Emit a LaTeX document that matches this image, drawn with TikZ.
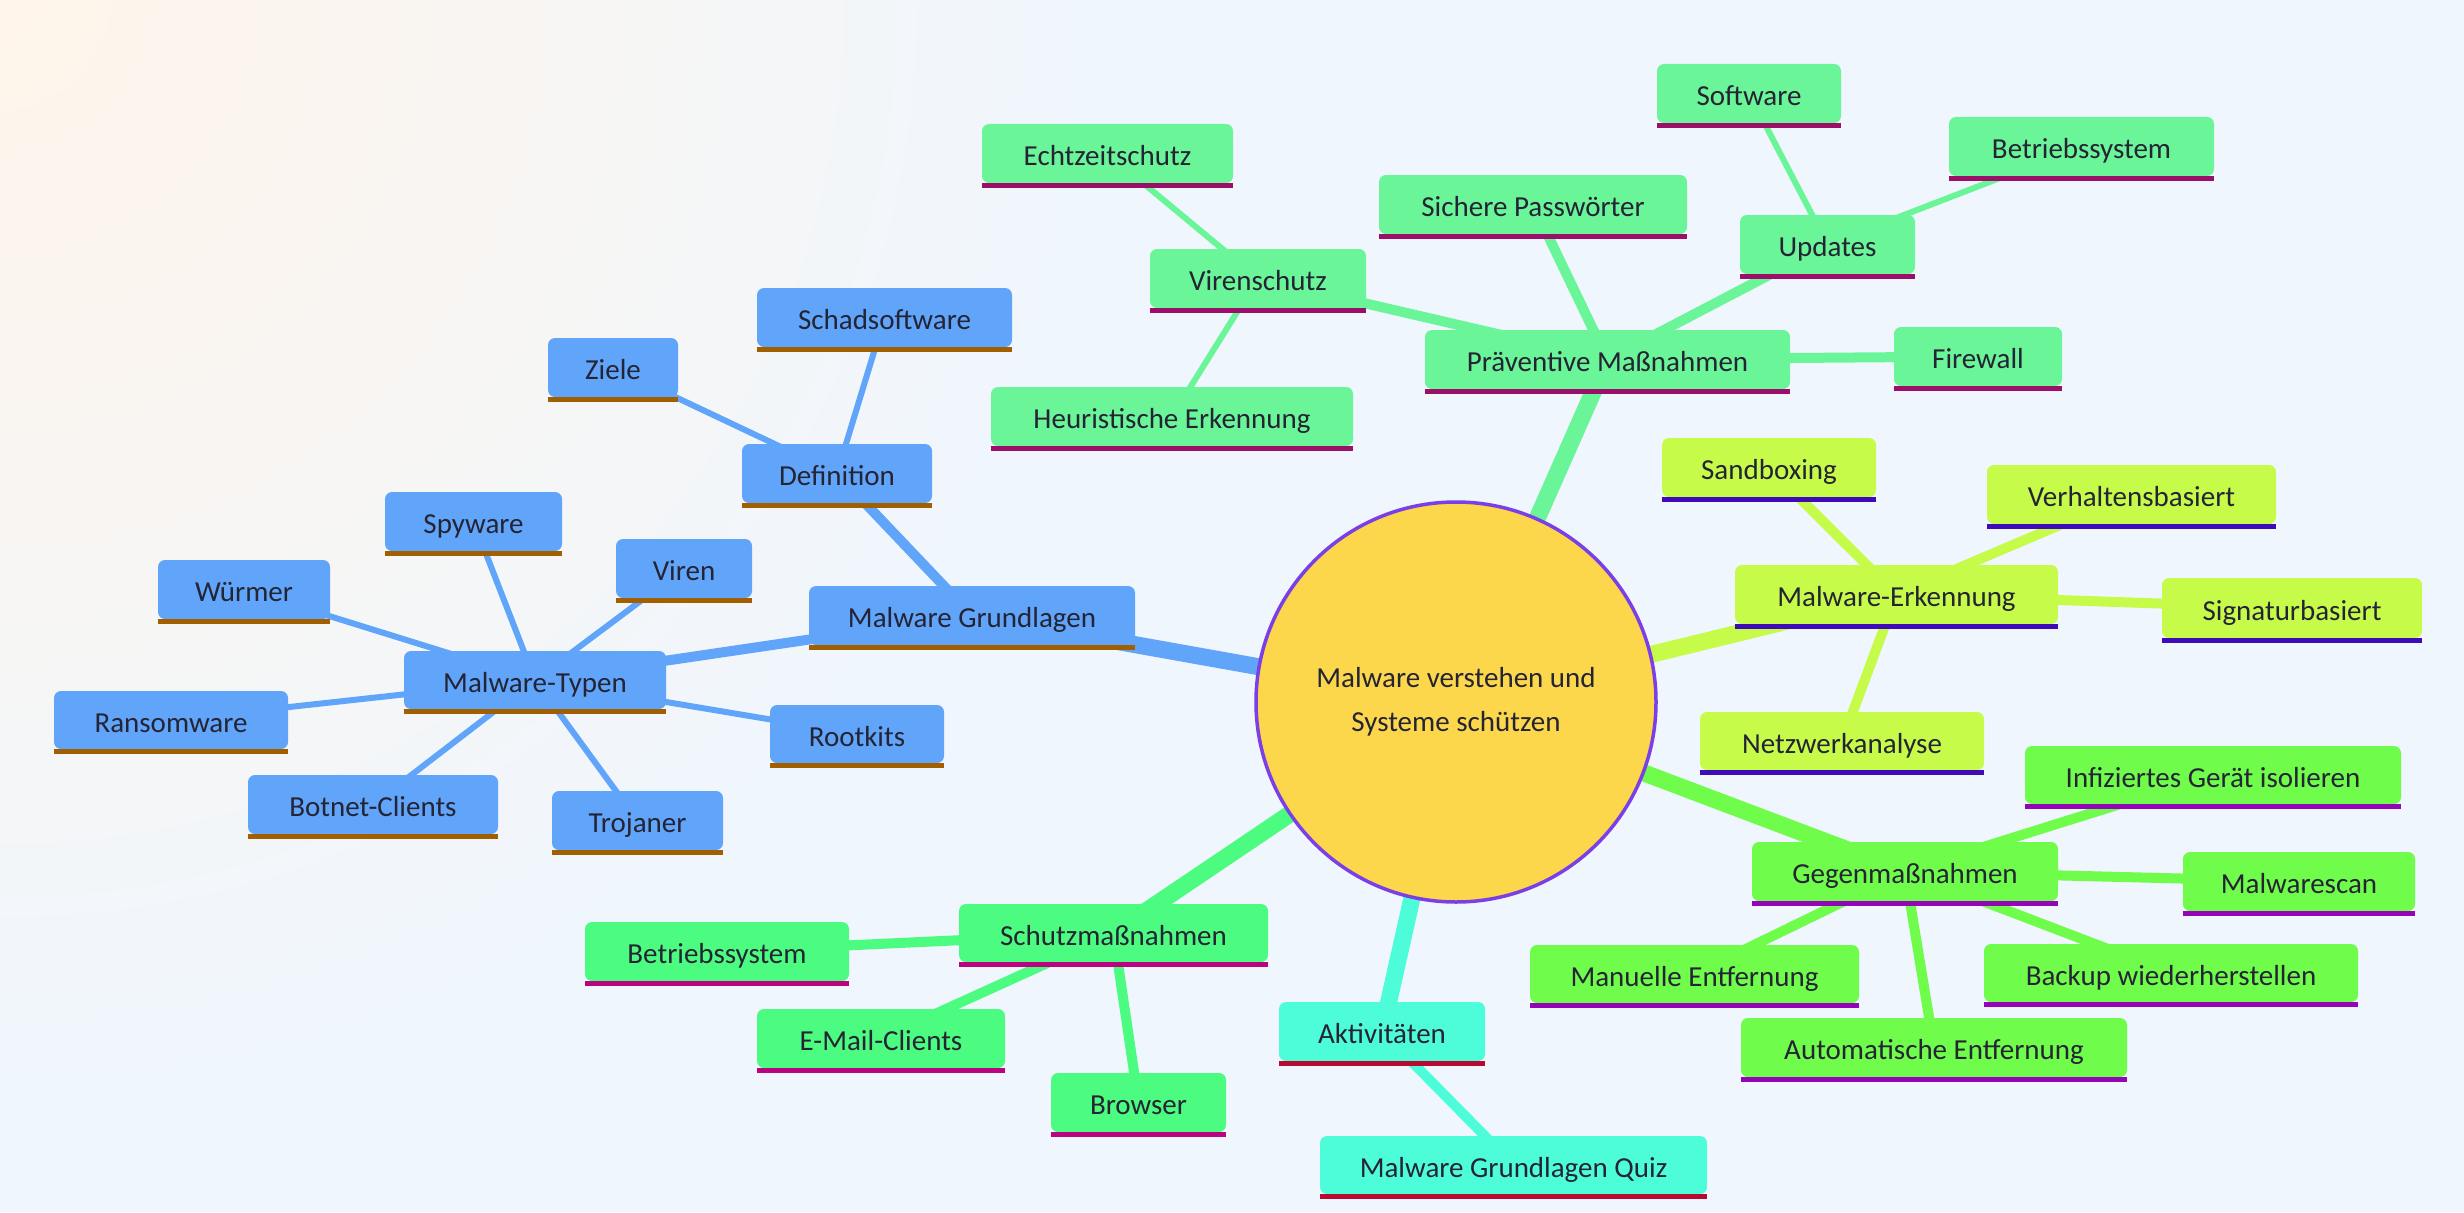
\documentclass[tikz,border=0pt]{standalone}
\usepackage{fontspec}
\setmainfont{Carlito}
\pgfdeclarelayer{bg}
\pgfdeclarelayer{edges}
\pgfsetlayers{bg,edges,main}
\definecolor{bgc}{HTML}{F0F6FD}
\definecolor{peach}{HTML}{FFF5EA}
\definecolor{txtc}{HTML}{242434}
\definecolor{cblue}{HTML}{60A5FA}\definecolor{bblue}{HTML}{A15F00}
\definecolor{cmint}{HTML}{6AF598}\definecolor{bmint}{HTML}{9B0F68}
\definecolor{clime}{HTML}{C7FB4A}\definecolor{blime}{HTML}{3F0BB8}
\definecolor{cgrn}{HTML}{6FFC4A}\definecolor{bgrn}{HTML}{9305B7}
\definecolor{cgrnb}{HTML}{4CFC80}\definecolor{bgrnb}{HTML}{B8057F}
\definecolor{caqua}{HTML}{4DFDD9}\definecolor{baqua}{HTML}{B80A31}
\definecolor{rootfill}{HTML}{FDD74B}\definecolor{rootline}{HTML}{7B3FE6}
\newcommand\mmf{\fontsize{29}{44}\selectfont}
\newcommand\mmbox[7]{\node[#2, minimum width={#5-#3}, minimum height={#6-#4-5}] (#1) at ({(#3+#5)/2},{(#4+#6-5)/2}) {#7};}
\begin{document}
\begin{tikzpicture}[x=1pt,y=-1pt,
  box/.style={rectangle, rounded corners=7pt, inner sep=0pt, text=txtc, font=\mmf, text height=27pt, text depth=3pt},
  bluebox/.style={box, fill=cblue},
  mintbox/.style={box, fill=cmint},
  limebox/.style={box, fill=clime},
  grnbox/.style={box, fill=cgrn},
  grnbbox/.style={box, fill=cgrnb},
  aquabox/.style={box, fill=caqua},
  rootedge/.style={line width=17pt},
  midedge/.style={line width=10pt},
  leafedge/.style={line width=6pt}]
\useasboundingbox (0,0) rectangle (2464,1212);
\begin{pgfonlayer}{bg}
\begin{scope}
\clip (0,0) rectangle (2464,1212);
\fill[bgc] (0,0) rectangle (2464,1212);
\shade[inner color=peach, outer color=bgc] (0,0) circle (1100pt);
\end{scope}
\end{pgfonlayer}

% root
\node[circle, minimum size=400pt, inner sep=0pt, fill=rootfill, draw=rootline, line width=3.5pt,
  align=center, text=txtc, font=\mmf] (rootn) at (1456,702) {Malware verstehen und\\Systeme schützen};

% blue branch
\mmbox{mg}{bluebox}{809}{586}{1135}{650}{Malware Grundlagen}
\mmbox{def}{bluebox}{742}{444}{932}{508}{Definition}
\mmbox{schad}{bluebox}{757}{288}{1012}{352}{Schadsoftware}
\mmbox{ziele}{bluebox}{548}{338}{678}{402}{Ziele}
\mmbox{typ}{bluebox}{404}{651}{666}{714}{Malware-Typen}
\mmbox{spy}{bluebox}{385}{492}{562}{556}{Spyware}
\mmbox{wurm}{bluebox}{158}{560}{330}{624}{Würmer}
\mmbox{viren}{bluebox}{616}{539}{752}{603}{Viren}
\mmbox{ransom}{bluebox}{54}{691}{288}{754}{Ransomware}
\mmbox{botnet}{bluebox}{248}{775}{498}{839}{Botnet-Clients}
\mmbox{troj}{bluebox}{552}{791}{723}{855}{Trojaner}
\mmbox{rootk}{bluebox}{770}{705}{944}{768}{Rootkits}

% praeventive branch
\mmbox{prae}{mintbox}{1425}{330}{1790}{394}{Präventive Maßnahmen}
\mmbox{viru}{mintbox}{1150}{249}{1366}{313}{Virenschutz}
\mmbox{echt}{mintbox}{982}{124}{1233}{188}{Echtzeitschutz}
\mmbox{heur}{mintbox}{991}{387}{1353}{451}{Heuristische Erkennung}
\mmbox{pass}{mintbox}{1379}{175}{1687}{239}{Sichere Passwörter}
\mmbox{upd}{mintbox}{1740}{215}{1915}{279}{Updates}
\mmbox{soft}{mintbox}{1657}{64}{1841}{128}{Software}
\mmbox{bsa}{mintbox}{1949}{117}{2214}{181}{Betriebssystem}
\mmbox{fire}{mintbox}{1894}{327}{2062}{391}{Firewall}

% erkennung branch
\mmbox{erk}{limebox}{1735}{565}{2058}{629}{Malware-Erkennung}
\mmbox{sand}{limebox}{1662}{438}{1876}{502}{Sandboxing}
\mmbox{verh}{limebox}{1987}{465}{2276}{529}{Verhaltensbasiert}
\mmbox{sig}{limebox}{2162}{578}{2422}{643}{Signaturbasiert}
\mmbox{netz}{limebox}{1700}{712}{1984}{775}{Netzwerkanalyse}

% gegenmassnahmen branch
\mmbox{gegen}{grnbox}{1752}{842}{2058}{906}{Gegenmaßnahmen}
\mmbox{infz}{grnbox}{2025}{746}{2401}{809}{Infiziertes Gerät isolieren}
\mmbox{scan}{grnbox}{2183}{852}{2415}{916}{Malwarescan}
\mmbox{man}{grnbox}{1530}{945}{1859}{1008}{Manuelle Entfernung}
\mmbox{back}{grnbox}{1984}{944}{2358}{1007}{Backup wiederherstellen}
\mmbox{auto}{grnbox}{1741}{1018}{2127}{1082}{Automatische Entfernung}

% schutzmassnahmen branch
\mmbox{schutz}{grnbbox}{959}{904}{1268}{967}{Schutzmaßnahmen}
\mmbox{bsb}{grnbbox}{585}{922}{849}{986}{Betriebssystem}
\mmbox{mail}{grnbbox}{757}{1009}{1005}{1073}{E-Mail-Clients}
\mmbox{brow}{grnbbox}{1051}{1073}{1226}{1137}{Browser}

% aktivitaeten branch
\mmbox{akt}{aquabox}{1279}{1002}{1485}{1066}{Aktivitäten}
\mmbox{quiz}{aquabox}{1320}{1136}{1707}{1199}{Malware Grundlagen Quiz}

% underline bars
\foreach \n in {mg,def,schad,ziele,typ,spy,wurm,viren,ransom,botnet,troj,rootk}
  \fill[bblue] (\n.south west) rectangle ([yshift=-5pt]\n.south east);
\foreach \n in {prae,viru,echt,heur,pass,upd,soft,bsa,fire}
  \fill[bmint] (\n.south west) rectangle ([yshift=-5pt]\n.south east);
\foreach \n in {erk,sand,verh,sig,netz}
  \fill[blime] (\n.south west) rectangle ([yshift=-5pt]\n.south east);
\foreach \n in {gegen,infz,scan,man,back,auto}
  \fill[bgrn] (\n.south west) rectangle ([yshift=-5pt]\n.south east);
\foreach \n in {schutz,bsb,mail,brow}
  \fill[bgrnb] (\n.south west) rectangle ([yshift=-5pt]\n.south east);
\foreach \n in {akt,quiz}
  \fill[baqua] (\n.south west) rectangle ([yshift=-5pt]\n.south east);

% edges
\begin{pgfonlayer}{edges}
\draw[rootedge, cblue] (rootn.center) -- (mg.center);
\draw[rootedge, cmint] (rootn.center) -- (prae.center);
\draw[rootedge, clime] (rootn.center) -- (erk.center);
\draw[rootedge, cgrn] (rootn.center) -- (gegen.center);
\draw[rootedge, cgrnb] (rootn.center) -- (schutz.center);
\draw[rootedge, caqua] (rootn.center) -- (akt.center);
\foreach \n in {def,typ} \draw[midedge, cblue] (mg.center) -- (\n.center);
\foreach \n in {schad,ziele} \draw[leafedge, cblue] (def.center) -- (\n.center);
\foreach \n in {spy,wurm,viren,ransom,botnet,troj,rootk} \draw[leafedge, cblue] (typ.center) -- (\n.center);
\foreach \n in {viru,pass,upd,fire} \draw[midedge, cmint] (prae.center) -- (\n.center);
\foreach \n in {echt,heur} \draw[leafedge, cmint] (viru.center) -- (\n.center);
\foreach \n in {soft,bsa} \draw[leafedge, cmint] (upd.center) -- (\n.center);
\foreach \n in {sand,verh,sig,netz} \draw[midedge, clime] (erk.center) -- (\n.center);
\foreach \n in {infz,scan,man,back,auto} \draw[midedge, cgrn] (gegen.center) -- (\n.center);
\foreach \n in {bsb,mail,brow} \draw[midedge, cgrnb] (schutz.center) -- (\n.center);
\draw[midedge, caqua] (akt.center) -- (quiz.center);
\end{pgfonlayer}
\end{tikzpicture}
\end{document}
